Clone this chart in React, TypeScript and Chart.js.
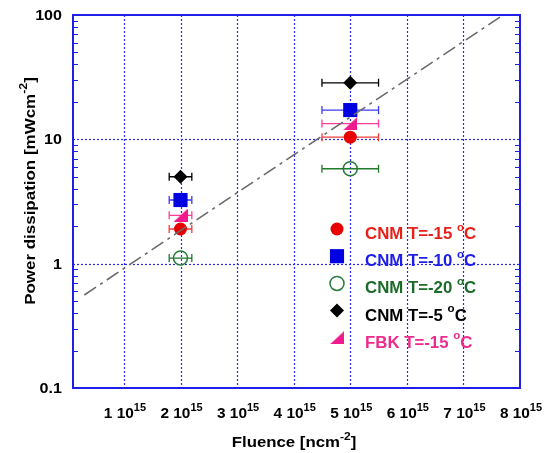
import { useEffect, useRef } from "react";
import { Chart, registerables } from "chart.js";
import { drawPoint } from "chart.js/helpers";

Chart.register(...registerables);

// Fluence (n/cm^2) and its 10% uncertainty
const fluence = [2e15, 5e15];
const fluenceErr = [0.2e15, 0.5e15];

// Power dissipation (mW/cm^2) per sensor / temperature
const cnmMinus15 = [1.9, 10.4];
const cnmMinus10 = [3.25, 17.2];
const cnmMinus20 = [1.11, 5.8];
const cnmMinus5 = [5.0, 28.5];
const fbkMinus15 = [2.45, 13.4];

// Guide line (dash-dot)
const guideX = [0.3e15, 7.7e15];
const guideY = [0.56, 100];

// Axis ticks
const xTickMultipliers = [1, 2, 3, 4, 5, 6, 7, 8];
const yTickValues = [0.1, 1, 10, 100];
const yGridValues = [1, 10];

const FONT = '"Liberation Sans", Arial, sans-serif';
const FRAME = "#1f1fe8";
const GRID = "#2a2aee";

type Part = { t: string; sup?: boolean };

function drawParts(
  ctx: CanvasRenderingContext2D,
  parts: Part[],
  x: number,
  y: number,
  size: number,
  align: "left" | "center" | "right",
  color: string,
  stretch = 1
) {
  const supSize = Math.round(size * 0.7);
  let w = 0;
  for (const p of parts) {
    ctx.font = `bold ${p.sup ? supSize : size}px ${FONT}`;
    w += ctx.measureText(p.t).width;
  }
  ctx.save();
  ctx.translate(x, y);
  ctx.scale(stretch, 1);
  ctx.fillStyle = color;
  ctx.textAlign = "left";
  ctx.textBaseline = "alphabetic";
  let cx = align === "left" ? 0 : align === "center" ? -w / 2 : -w;
  for (const p of parts) {
    ctx.font = `bold ${p.sup ? supSize : size}px ${FONT}`;
    ctx.fillText(p.t, cx, p.sup ? -size * 0.52 : 0);
    cx += ctx.measureText(p.t).width;
  }
  ctx.restore();
}

function makeWedge(color: string) {
  const c = document.createElement("canvas");
  c.width = 14;
  c.height = 13;
  const g = c.getContext("2d")!;
  g.fillStyle = color;
  g.beginPath();
  g.moveTo(14, 0);
  g.lineTo(14, 13);
  g.lineTo(0, 13);
  g.closePath();
  g.fill();
  return c;
}

export default function App() {
  const canvasRef = useRef<HTMLCanvasElement | null>(null);

  useEffect(() => {
    const canvas = canvasRef.current;
    if (!canvas) return;

    const wedge = makeWedge("#f01a8c");

    const series = [
      { label: "CNM T=-15 ", values: cnmMinus15, style: "circle" as any, radius: 6.5, fill: "#e80000", stroke: "#e80000", bar: "#f03c3c", text: "#e8201a", border: 0 },
      { label: "CNM T=-10 ", values: cnmMinus10, style: "rect" as any, radius: 10, fill: "#0000e0", stroke: "#0000e0", bar: "#3a3aff", text: "#1e1ee6", border: 0 },
      { label: "CNM T=-20 ", values: cnmMinus20, style: "circle" as any, radius: 7, fill: "rgba(0,0,0,0)", stroke: "#2a7a3a", bar: "#1f7a2a", text: "#1d6b2a", border: 1.5 },
      { label: "CNM T=-5 ", values: cnmMinus5, style: "rectRot" as any, radius: 7, fill: "#000000", stroke: "#000000", bar: "#000000", text: "#000000", border: 0 },
      { label: "FBK T=-15 ", values: fbkMinus15, style: wedge as any, radius: 7, fill: "#f01a8c", stroke: "#f01a8c", bar: "#ff3c9a", text: "#ee2a8a", border: 0 },
    ];

    const datasets: any[] = series.map((s) => ({
      label: s.label,
      data: fluence.map((x, i) => ({ x, y: s.values[i] })),
      pointStyle: s.style,
      pointRadius: s.radius,
      pointBackgroundColor: s.fill,
      pointBorderColor: s.stroke,
      pointBorderWidth: s.border,
      showLine: false,
      order: 1,
    }));
    datasets.push({
      label: "guide",
      data: guideX.map((x, i) => ({ x, y: guideY[i] })),
      showLine: true,
      borderColor: "#6a6a6a",
      borderWidth: 1.6,
      borderDash: [14, 5, 3, 5],
      pointRadius: 0,
      order: -1,
    });

    const decorations = {
      id: "decorations",
      beforeDatasetsDraw(chart: any) {
        const { ctx, chartArea: a, scales } = chart;
        const xs = scales.x;
        const ys = scales.y;
        ctx.save();
        // dotted grid
        ctx.strokeStyle = GRID;
        ctx.lineWidth = 1.2;
        ctx.setLineDash([2, 2]);
        for (const m of xTickMultipliers) {
          const v = m * 1e15;
          if (v >= xs.max) continue;
          const px = Math.round(xs.getPixelForValue(v)) + 0.5;
          ctx.beginPath();
          ctx.moveTo(px, a.top);
          ctx.lineTo(px, a.bottom);
          ctx.stroke();
        }
        for (const v of yGridValues) {
          const py = Math.round(ys.getPixelForValue(v)) + 0.5;
          ctx.beginPath();
          ctx.moveTo(a.left, py);
          ctx.lineTo(a.right, py);
          ctx.stroke();
        }
        ctx.setLineDash([]);
        // horizontal error bars
        ctx.lineWidth = 1.3;
        for (const s of series) {
          ctx.strokeStyle = s.bar;
          fluence.forEach((f, i) => {
            const y = ys.getPixelForValue(s.values[i]);
            const x0 = xs.getPixelForValue(f - fluenceErr[i]);
            const x1 = xs.getPixelForValue(f + fluenceErr[i]);
            ctx.beginPath();
            ctx.moveTo(x0, y);
            ctx.lineTo(x1, y);
            ctx.moveTo(x0, y - 4);
            ctx.lineTo(x0, y + 4);
            ctx.moveTo(x1, y - 4);
            ctx.lineTo(x1, y + 4);
            ctx.stroke();
          });
        }
        ctx.restore();
      },
      afterDatasetsDraw(chart: any) {
        const { ctx, chartArea: a, scales } = chart;
        const ys = scales.y;
        ctx.save();
        ctx.strokeStyle = FRAME;
        ctx.lineWidth = 1;
        // minor ticks on both vertical edges
        for (let d = -1; d < 2; d++) {
          for (let k = 2; k <= 9; k++) {
            const py = Math.round(ys.getPixelForValue(k * Math.pow(10, d))) + 0.5;
            ctx.beginPath();
            ctx.moveTo(a.left, py);
            ctx.lineTo(a.left + 5, py);
            ctx.moveTo(a.right, py);
            ctx.lineTo(a.right - 5, py);
            ctx.stroke();
          }
        }
        // frame
        ctx.lineWidth = 2;
        ctx.strokeRect(a.left, a.top, a.right - a.left, a.bottom - a.top);
        ctx.restore();
      },
      afterDraw(chart: any) {
        const { ctx, scales } = chart;
        const xs = scales.x;
        const ys = scales.y;
        // y tick labels
        for (const v of yTickValues) {
          drawParts(ctx, [{ t: String(v) }], 62, ys.getPixelForValue(v) + 5, 14, "right", "#000", 1.15);
        }
        // x tick labels
        for (const m of xTickMultipliers) {
          drawParts(ctx, [{ t: `${m} 10` }, { t: "15", sup: true }], xs.getPixelForValue(m * 1e15) + 1, 418, 14, "center", "#000", 1.1);
        }
        // axis titles
        drawParts(ctx, [{ t: "Fluence [ncm" }, { t: "-2", sup: true }, { t: "]" }], 294, 447, 14, "center", "#000", 1.2);
        ctx.save();
        ctx.translate(35, 191);
        ctx.rotate(-Math.PI / 2);
        drawParts(ctx, [{ t: "Power dissipation [mWcm" }, { t: "-2", sup: true }, { t: "]" }], 0, 0, 15, "center", "#000", 1.13);
        ctx.restore();
        // legend
        series.forEach((s, i) => {
          const ty = 233 + i * 27.2;
          ctx.save();
          ctx.fillStyle = s.fill;
          ctx.strokeStyle = s.stroke;
          ctx.lineWidth = s.border;
          drawPoint(ctx, { pointStyle: s.style, radius: s.radius, rotation: 0, borderWidth: s.border } as any, 337, ty - 4);
          ctx.restore();
          drawParts(ctx, [{ t: s.label }, { t: "o", sup: true }, { t: "C" }], 365, ty + 6, 16, "left", s.text, 1.05);
        });
      },
    };

    const chart = new Chart(canvas, {
      type: "scatter",
      data: { datasets },
      options: {
        animation: false,
        responsive: true,
        maintainAspectRatio: false,
        layout: { padding: { left: 73, right: 24, top: 15, bottom: 65 } },
        plugins: { legend: { display: false }, tooltip: { enabled: false } },
        scales: {
          x: { type: "linear", min: 1e14, max: 8e15, display: false },
          y: { type: "logarithmic", min: 0.1, max: 100, display: false },
        },
      },
      plugins: [decorations],
    });

    return () => chart.destroy();
  }, []);

  return (
    <div style={{ position: "absolute", left: 0, top: 0, width: 544, height: 453, background: "#fff" }}>
      <canvas ref={canvasRef} />
    </div>
  );
}
